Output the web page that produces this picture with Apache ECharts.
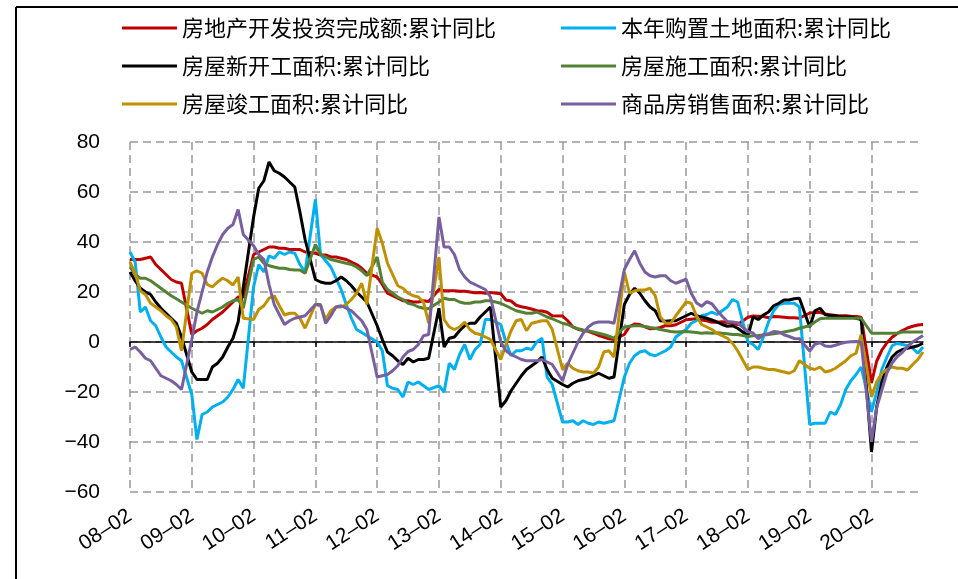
<!DOCTYPE html>
<html>
<head>
<meta charset="utf-8">
<script src="https://cdn.jsdelivr.net/npm/echarts/dist/echarts.min.js"></script>
<style>
  body { margin: 0; background: #fff; }
  #chart { width: 958px; height: 579px; }
</style>
</head>
<body>
<div id="chart"></div>
<script>
// 每年 2 月至 12 月的累计同比（1 月无数据），2008-2020
const investment = [
  33, 33, 33, 33.5, 34, 31, 29, 27, 25, 24, 23.5,
  3, 4.5, 5.5, 7, 9, 10.5, 12, 14, 16, 18, 18,
  35, 36, 37, 38, 38, 37.5, 37.5, 37, 37, 37, 36,
  35.5, 34.8, 34.8, 34, 34, 33.5, 33, 32, 31, 29.5, 27.5,
  26, 23, 19.5, 18.5, 17.5, 16.5, 16.5, 16, 16, 16.5, 16.2,
  21, 20.5, 20.5, 20.5, 20.3, 20.3, 20, 19.7, 19.8, 19.5, 19.8,
  19.3, 16.8, 16.4, 14.7, 14.1, 13.7, 13.2, 12.5, 12.4, 11.9, 10.5,
  10.4, 8.5, 6.0, 5.1, 4.6, 4.3, 3.5, 2.6, 2.0, 1.3, 1.0,
  3.0, 6.2, 7.2, 7.0, 6.1, 5.3, 5.4, 5.8, 6.6, 6.5, 6.9,
  8.9, 9.1, 9.3, 8.8, 8.5, 7.9, 7.9, 8.1, 7.8, 7.5, 7.0,
  9.9, 10.4, 10.3, 10.2, 9.7, 10.2, 10.1, 9.9, 9.7, 9.7, 9.5,
  11.6, 11.8, 11.9, 11.2, 10.9, 10.6, 10.5, 10.5, 10.3, 10.2, 9.9,
  -16.3, -7.7, -3.3, -0.3, 1.9, 3.4, 4.6, 5.6, 6.3, 6.8, 7.0
];
const landArea = [
  36, 32, 12, 14, 8.5, 6.5, 2, -2, -4, -6, -7.5,
  -21, -39, -29, -28, -26, -25, -24, -22, -19, -15, -18.5,
  22, 31, 28, 34.5, 33.5, 36, 35, 36, 35.5, 31, 28,
  57, 35, 32.5, 30, 25.5, 21, 15, 9.5, 5, 3.8, 2.5,
  0, -3.5, -17.5, -18.5, -19, -22, -16, -17, -16, -17.5, -19,
  -17.5, -20, -8.5, -11, -5, -1, -7, -3, -1, 9, 9,
  7, 0, -5.5, -3.5, -3.5, -2.5, -3, 0, 1.5, -14, -17,
  -32, -32, -31.5, -33, -31.5, -32.5, -33, -32, -32.5, -32, -31.5,
  -14, -8.5, -5.5, -4, -3.5, -5, -5.5, -4.5, -3.5, -2, 2,
  5, 7.5, 8.5, 10.5, 11, 12, 11, 12.5, 14, 17, 16,
  0, -1, -3, 2, 8, 12.5, 15, 15.5, 15.5, 15.5, 14,
  -33, -32.5, -32.5, -32.5, -28, -29, -25, -19, -15.5, -13, -10,
  -28, -20, -11, -6, -1.5, -0.5, -1, -1.5, -2.5, -4.5, -2
];
const newStarts = [
  28, 24.5, 21.5, 20, 19, 16, 13.5, 11.5, 9.5, 7.5, 2,
  -12, -15, -15, -15, -10, -8.5, -6, -2, 1.5, 8, 22,
  50, 61.5, 64.5, 72, 68.5, 67.5, 66, 64, 62, 52, 41,
  25, 24, 23.5, 23.5, 24.5, 26, 24.5, 22.5, 20, 18, 16,
  6.5, 1, -4, -5.5, -7.5, -9, -6.5, -8, -7, -7, -6.5,
  13.5, -2, 1.5, 2, 4.5, 6.5, 7.5, 7.5, 10, 12, 14,
  -26, -23.5, -19.5, -16.5, -13.5, -11, -9.5, -8, -6, -11, -14.5,
  -17, -18, -16.5, -15.5, -15, -14.5, -13.5, -12.5, -13.5, -14.5, -14,
  15, 19, 21.5, 19.5, 16.5, 14, 12.5, 8.5, 8.3, 8.5, 8.5,
  10.5, 11.5, 10.5, 10, 9.5, 8.8, 8, 7, 6.3, 6.5, 5.5,
  2.5, 10, 9, 10.8, 12, 14.5, 15.5, 16.8, 16.8, 17.3, 17.5,
  6, 12.5, 13.5, 11, 10.5, 10.5, 10, 10, 10, 9.5, 9,
  -44, -26, -16, -10, -6, -4, -3, -2.5, -2, -1.5, -0.5
];
const underConstruction = [
  30, 27, 25.5, 25.5, 24.5, 23, 21.5, 20, 18.5, 17.3, 16,
  13.5, 12.5, 11.5, 12.5, 12, 13, 14, 15.5, 16.5, 17, 13.5,
  33, 34, 31.5, 30.5, 30, 29.5, 29.5, 29, 28.8, 28.8, 27.5,
  39, 35, 34, 33, 32.5, 32, 31.5, 31, 30, 28.5, 26.5,
  34, 24, 21, 19.5, 18, 17, 15.5, 15, 14, 13.5, 13.3,
  16, 17.5, 17, 17, 16, 15.5, 15.5, 16, 16, 16.5, 16.5,
  15.5, 14.5, 13.5, 12.5, 12, 11.5, 11.5, 12, 11, 10, 9.3,
  7.5, 7, 6, 5.3, 4.8, 4.5, 4, 3.5, 3, 2.3, 1.5,
  6, 6.3, 6.5, 6.5, 6.2, 5.8, 5.5, 5, 4.6, 4.2, 4,
  4.2, 4, 3.8, 3.5, 3.7, 3.5, 3.7, 3.5, 3.3, 3, 3,
  2.2, 2.5, 2.6, 2.8, 3, 3.3, 3.6, 4, 4.4, 4.8, 5.5,
  6.5, 8, 9.3, 9.5, 9.5, 9.5, 9.5, 9.5, 9.5, 9.5, 9.5,
  3.5, 3.5, 3.5, 3.5, 3.5, 3.5, 4, 4, 4, 4, 4
];
const completed = [
  32, 27.5, 20.5, 19, 15.5, 14, 12.5, 10.5, 9, 6, -3.5,
  27.5, 28.5, 27.5, 23, 22, 24, 25.5, 24.5, 22.8, 26, 9.5,
  9, 13, 14.5, 17.5, 18.5, 14.5, 10.8, 11.5, 11.5, 9.5, 5.5,
  15, 14.5, 9, 12.5, 14, 14, 15, 17, 19.5, 23.5, 15,
  45.5, 39.5, 31.5, 27, 22.5, 21.5, 19.5, 18.5, 18, 16, 7.5,
  34, 9, 6, 5, 6, 8, 5, 3.5, 3, 2, 1,
  -7, -1, 4.5, 8.5, 9, 4.5, 7.5, 8, 8.5, 8.5, 5,
  -11, -8.5, -10.5, -11.5, -12, -12, -12.5, -10, -4, -3.5, -6,
  28, 19.5, 20.5, 20.8, 20.8, 21.5, 18.5, 10, 7.5, 7.5, 10.5,
  16, 15.5, 10.5, 7, 6, 5, 3.5, 2.5, 1.5, -0.5, -3.5,
  -11, -10, -10, -10.5, -11, -11, -11.5, -12, -12.5, -11.5, -7.5,
  -10.5, -11, -10, -12, -11.5, -10.5, -9, -7.5, -5.5, -4.5, 3,
  -22, -16, -12.5, -11, -10, -10.5, -10.5, -11.2, -9, -7, -4
];
const salesArea = [
  -3, -2, -4, -6.5, -7.5, -10.5, -13.5, -14.5, -15.5, -17, -19,
  1, 12, 20, 28, 34, 39, 43, 45.5, 47, 53, 43,
  38.5, 35, 33, 23, 15, 11, 7, 8.5, 9.5, 10, 10.5,
  15, 15, 7.5, 10.5, 14, 14.5, 13.5, 12.5, 10.5, 8.5, 5,
  -14, -13.5, -13, -11.5, -9.5, -6, -3.8, -3, -1, 2.5, 3,
  50, 38, 38, 35, 29, 26, 24, 23, 22, 21, 18,
  0, -3.5, -5, -6, -7, -7.5, -7.5, -7.5, -7, -8, -9,
  -15.5, -9, -4.5, 0, 3.5, 6, 7.5, 8, 8, 8, 7.5,
  29, 33, 36.5, 31.5, 28, 26.5, 26, 26.5, 26.5, 24.5, 23.5,
  25.1, 19.5, 15.7, 14.3, 16.1, 15.3, 12.7, 10.3, 8.2, 8.0, 7.7,
  4.1, 3.6, 1.3, 2.9, 3.3, 4.2, 4.0, 2.9, 2.2, 1.4, 1.3,
  -3.6, -0.9, -0.3, -1.6, -1.8, -1.3, -0.6, -0.1, 0.1, 0.2, -0.1,
  -39.9, -26.3, -19.3, -12.3, -8.4, -5.8, -4.1, -1.8, 0.0, 1.3, 2.6
];

const seriesNames = [
  "房地产开发投资完成额:累计同比",
  "本年购置土地面积:累计同比",
  "房屋新开工面积:累计同比",
  "房屋施工面积:累计同比",
  "房屋竣工面积:累计同比",
  "商品房销售面积:累计同比"
];
const seriesValues = [investment, landArea, newStarts, underConstruction, completed, salesArea];
const seriesColors = ["#C00000", "#00B0F0", "#000000", "#548235", "#BF9000", "#7860A0"];
const yearList = [2008, 2009, 2010, 2011, 2012, 2013, 2014, 2015, 2016, 2017, 2018, 2019, 2020];

// 月度类目（从 08-02 开始），1 月为空值
const categories = [];
yearList.forEach(function (y) {
  for (let m = 1; m <= 12; m++) {
    if (y === 2008 && m === 1) continue;
    categories.push(String(y % 100).padStart(2, "0") + "-" + String(m).padStart(2, "0"));
  }
});

function withGaps(values) {
  let k = 0;
  return categories.map(function (c) {
    return c.endsWith("-01") ? null : values[k++];
  });
}

const chart = echarts.init(document.getElementById("chart"));

const legendText = { fontSize: 22, fontFamily: "Noto Sans CJK SC", color: "#000" };
const dashed = { color: "#999999", type: [8, 5], width: 1.5 };

const option = {
  animation: false,
  color: seriesColors,
  legend: [
    {
      data: [seriesNames[0], seriesNames[2], seriesNames[4]],
      orient: "vertical", left: 122, top: 17, padding: 0,
      icon: "rect", itemWidth: 55, itemHeight: 3, itemGap: 16,
      textStyle: legendText
    },
    {
      data: [seriesNames[1], seriesNames[3], seriesNames[5]],
      orient: "vertical", left: 561, top: 17, padding: 0,
      icon: "rect", itemWidth: 55, itemHeight: 3, itemGap: 16,
      textStyle: legendText
    }
  ],
  grid: { left: 130, right: 35, top: 142, bottom: 87 },
  xAxis: [
    {
      type: "category",
      data: categories,
      boundaryGap: false,
      axisLine: { show: false, onZero: false },
      axisTick: { show: false },
      axisLabel: {
        interval: 11, rotate: 33, margin: 22,
        fontSize: 21, fontFamily: "Liberation Sans", color: "#000",
        formatter: function (v) { return v.replace("-", "–"); }
      },
      splitLine: { show: true, interval: 11, lineStyle: dashed }
    },
    {
      type: "category",
      data: categories,
      boundaryGap: false,
      position: "top",
      axisLine: { onZero: true, lineStyle: { color: "#000", width: 1.5 } },
      axisTick: { interval: 11, inside: true, length: 5, lineStyle: { color: "#000", width: 1.5 } },
      axisLabel: { show: false },
      splitLine: { show: false }
    }
  ],
  yAxis: {
    type: "value",
    min: -60, max: 80, interval: 20,
    axisLine: { show: false },
    axisTick: { show: false },
    axisLabel: {
      margin: 30, fontSize: 21, fontFamily: "Liberation Sans", color: "#000",
      formatter: function (v) { return String(v).replace("-", "−"); }
    },
    splitLine: { lineStyle: dashed }
  },
  graphic: [
    { type: "line", shape: { x1: 16, y1: 7, x2: 958, y2: 7 }, style: { stroke: "#000", lineWidth: 2 } },
    { type: "line", shape: { x1: 16, y1: 7, x2: 16, y2: 579 }, style: { stroke: "#000", lineWidth: 2 } }
  ],
  series: seriesNames.map(function (name, i) {
    return {
      name: name,
      type: "line",
      xAxisIndex: 0,
      data: withGaps(seriesValues[i]),
      connectNulls: true,
      symbol: "none",
      lineStyle: { width: 3 }
    };
  })
};

chart.setOption(option);
</script>
</body>
</html>
